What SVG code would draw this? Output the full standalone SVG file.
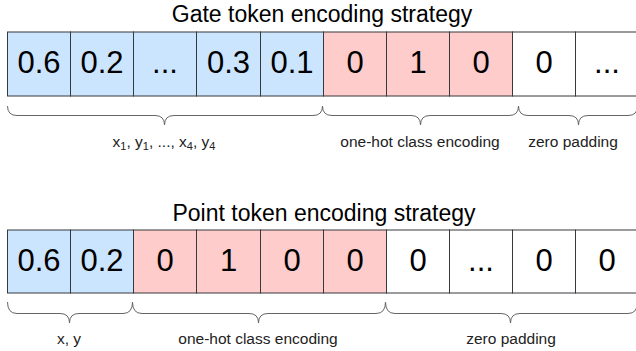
<svg xmlns="http://www.w3.org/2000/svg" width="636" height="351" viewBox="0 0 636 351">
<style>
text{font-family:"Liberation Sans",Arial,sans-serif;fill:#000}
.title{font-size:23px;text-anchor:middle}
.val{font-size:31px;text-anchor:middle}
.lbl{font-size:15.5px;text-anchor:middle;fill:#222}
.sub{font-size:11px}
.blue{fill:#cce5ff;stroke:#36393d;stroke-width:1}
.pink{fill:#ffcccc;stroke:#36393d;stroke-width:1}
.white{fill:#ffffff;stroke:#36393d;stroke-width:1}
.brace{fill:none;stroke:#666;stroke-width:1}
</style>
<rect width="636" height="351" fill="#fff"/>
<text class="title" x="322" y="21.5">Gate token encoding strategy</text>
<text class="title" x="324" y="220.5">Point token encoding strategy</text>

<g id="gate-row">
<g id="g1"><rect class="blue" x="7.5" y="32" width="63" height="64"/><text class="val" x="39" y="73">0.6</text></g>
<g id="g2"><rect class="blue" x="70.5" y="32" width="63" height="64"/><text class="val" x="102" y="73">0.2</text></g>
<g id="g3"><rect class="blue" x="133.5" y="32" width="63" height="64"/><text class="val" x="165" y="73">...</text></g>
<g id="g4"><rect class="blue" x="196.5" y="32" width="64" height="64"/><text class="val" x="228.5" y="73">0.3</text></g>
<g id="g5"><rect class="blue" x="260.5" y="32" width="63" height="64"/><text class="val" x="292" y="73">0.1</text></g>
<g id="g6"><rect class="pink" x="323.5" y="32" width="63" height="64"/><text class="val" x="355" y="73">0</text></g>
<g id="g7"><rect class="pink" x="386.5" y="32" width="63" height="64"/><text class="val" x="418" y="73">1</text></g>
<g id="g8"><rect class="pink" x="449.5" y="32" width="63" height="64"/><text class="val" x="481" y="73">0</text></g>
<g id="g9"><rect class="white" x="512.5" y="32" width="63" height="64"/><text class="val" x="544" y="73">0</text></g>
<g id="g10"><rect class="white" x="575.5" y="32" width="63" height="64"/><text class="val" x="607" y="73">...</text></g>
</g>

<g id="point-row">
<g id="p1"><rect class="blue" x="7.5" y="230" width="63" height="63"/><text class="val" x="39" y="270.5">0.6</text></g>
<g id="p2"><rect class="blue" x="70.5" y="230" width="63" height="63"/><text class="val" x="102" y="270.5">0.2</text></g>
<g id="p3"><rect class="pink" x="133.5" y="230" width="63" height="63"/><text class="val" x="165" y="270.5">0</text></g>
<g id="p4"><rect class="pink" x="196.5" y="230" width="64" height="63"/><text class="val" x="228.5" y="270.5">1</text></g>
<g id="p5"><rect class="pink" x="260.5" y="230" width="63" height="63"/><text class="val" x="292" y="270.5">0</text></g>
<g id="p6"><rect class="pink" x="323.5" y="230" width="63" height="63"/><text class="val" x="355" y="270.5">0</text></g>
<g id="p7"><rect class="white" x="386.5" y="230" width="63" height="63"/><text class="val" x="418" y="270.5">0</text></g>
<g id="p8"><rect class="white" x="449.5" y="230" width="63" height="63"/><text class="val" x="481" y="270.5">...</text></g>
<g id="p9"><rect class="white" x="512.5" y="230" width="63" height="63"/><text class="val" x="544" y="270.5">0</text></g>
<g id="p10"><rect class="white" x="575.5" y="230" width="63" height="63"/><text class="val" x="607" y="270.5">0</text></g>
</g>

<g id="braces">
<path class="brace" d="M7.5,106 Q7.5,115.5 17,115.5 L155,115.5 Q164.5,115.5 164.5,125 Q164.5,115.5 174,115.5 L313,115.5 Q322.5,115.5 322.5,106"/>
<path class="brace" d="M322.5,106 Q322.5,115.5 332,115.5 L411,115.5 Q420.5,115.5 420.5,125 Q420.5,115.5 430,115.5 L509,115.5 Q518.5,115.5 518.5,106"/>
<path class="brace" d="M518.5,106 Q518.5,115.5 528,115.5 L569,115.5 Q578.5,115.5 578.5,125 Q578.5,115.5 588,115.5 L628,115.5 Q637.5,115.5 637.5,106"/>
<path class="brace" d="M7.5,302 Q7.5,313.5 17,313.5 L60,313.5 Q69.5,313.5 69.5,323 Q69.5,313.5 79,313.5 L123,313.5 Q132.5,313.5 132.5,302"/>
<path class="brace" d="M132.5,302 Q132.5,313.5 142,313.5 L249,313.5 Q258.5,313.5 258.5,323 Q258.5,313.5 268,313.5 L376,313.5 Q385.5,313.5 385.5,302"/>
<path class="brace" d="M385.5,302 Q385.5,313.5 395,313.5 L501,313.5 Q510.5,313.5 510.5,323 Q510.5,313.5 520,313.5 L628,313.5 Q637.5,313.5 637.5,302"/>
</g>

<g id="labels">
<text class="lbl" x="164" y="146.5">x<tspan class="sub" dy="3">1</tspan><tspan dy="-3">, y</tspan><tspan class="sub" dy="3">1</tspan><tspan dy="-3">, ..., x</tspan><tspan class="sub" dy="3">4</tspan><tspan dy="-3">, y</tspan><tspan class="sub" dy="3">4</tspan></text>
<text class="lbl" x="420" y="146.5">one-hot class encoding</text>
<text class="lbl" x="573" y="146.5">zero padding</text>
<text class="lbl" x="69" y="344">x, y</text>
<text class="lbl" x="258" y="344">one-hot class encoding</text>
<text class="lbl" x="511" y="344">zero padding</text>
</g>
</svg>
